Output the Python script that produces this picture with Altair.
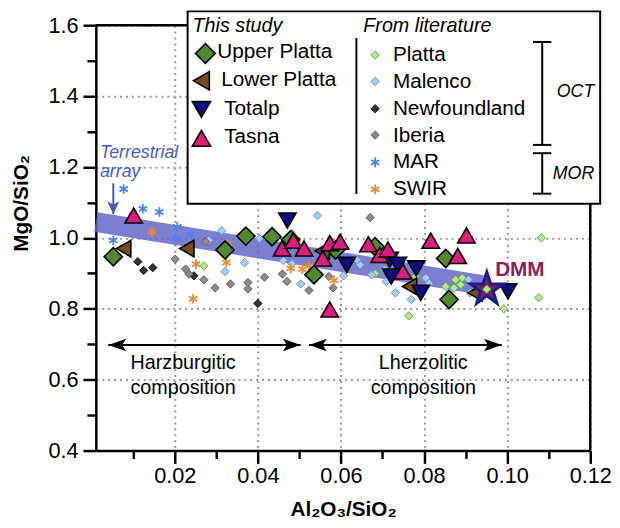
import altair as alt
import pandas as pd

FONT = "Liberation Sans"

# ---------------- data ----------------
upper_platta_x = [0.0052, 0.0321, 0.0371, 0.0434, 0.0479, 0.0535, 0.0587, 0.0682, 0.0852, 0.0860]
upper_platta_y = [0.947, 0.966, 1.005, 1.003, 0.995, 0.896, 0.966, 0.975, 0.942, 0.826]

lower_platta_x = [0.0077, 0.0229, 0.0555, 0.0765, 0.0923]
lower_platta_y = [0.970, 0.970, 0.963, 0.863, 0.845]

totalp_x = [0.0471, 0.0614, 0.0717, 0.0737, 0.0721, 0.0781, 0.0792, 0.1002]
totalp_y = [1.049, 0.924, 0.938, 0.924, 0.891, 0.914, 0.845, 0.849]

tasna_x = [0.0101, 0.0458, 0.0485, 0.0511, 0.0556, 0.0573, 0.0598, 0.0666, 0.0693,
           0.0713, 0.0749, 0.0816, 0.0573, 0.0881, 0.0902]
tasna_y = [1.063, 0.970, 0.992, 0.970, 0.942, 0.985, 0.989, 0.982, 0.952,
           0.967, 0.905, 0.992, 0.798, 0.949, 1.007]

platta_x = [0.0270, 0.0482, 0.0531, 0.0682, 0.0763, 0.0780, 0.0852, 0.0872, 0.0876,
            0.0888, 0.0892, 0.0992, 0.1076, 0.1082]
platta_y = [0.921, 1.012, 0.916, 0.899, 0.780, 0.891, 0.863, 0.859, 0.882,
            0.868, 0.887, 0.800, 0.831, 1.000]

malenco_x = [0.0282, 0.0313, 0.0321, 0.0368, 0.0404, 0.0461, 0.0482, 0.0503, 0.0543,
             0.0606, 0.0638, 0.0646, 0.0674, 0.0705, 0.0709, 0.0731, 0.0769, 0.0804,
             0.0812, 0.0862, 0.0907, 0.0911]
malenco_y = [0.993, 1.020, 0.905, 0.930, 0.998, 0.936, 0.927, 0.870, 1.063,
             0.893, 0.938, 0.924, 0.896, 0.910, 0.877, 0.845, 0.826, 0.887,
             0.872, 0.847, 0.882, 0.845]

newfoundland_x = [0.0111, 0.0125, 0.0147, 0.0246, 0.0400]
newfoundland_y = [0.933, 0.908, 0.916, 0.893, 0.815]

iberia_x = [0.0201, 0.0226, 0.0234, 0.0270, 0.0274, 0.0297, 0.0334, 0.0376, 0.0376,
            0.0416, 0.0459, 0.0470, 0.0523, 0.0567, 0.0571, 0.0581, 0.0670]
iberia_y = [0.940, 0.912, 0.898, 0.882, 0.989, 0.859, 0.870, 0.874, 0.856,
            0.889, 0.898, 0.877, 0.852, 0.973, 0.891, 0.859, 1.057]

mar_x = [0.0052, 0.0077, 0.0123, 0.0163, 0.0202, 0.0206, 0.0238]
mar_y = [0.993, 1.138, 1.082, 1.073, 0.998, 1.031, 1.010]

swir_x = [0.0145, 0.0244, 0.0251, 0.0324, 0.0326, 0.0479, 0.0493, 0.0507, 0.0523, 0.0583]
swir_y = [1.017, 0.828, 0.926, 0.930, 0.984, 0.914, 0.995, 0.912, 0.921, 0.880]

dmm_x = [0.0951]
dmm_y = [0.855]

band_x = [0.0010, 0.0940]
band_y = [1.045, 0.867]

arrow_x_start = [0.0040, 0.0523]
arrow_x_end = [0.0503, 0.0987]
arrow_y = [0.698, 0.698]

comp_label_x = [0.0220, 0.0220, 0.0798, 0.0798]
comp_label_y = [0.647, 0.575, 0.647, 0.575]
comp_label_text = ["Harzburgitic", "composition", "Lherzolitic", "composition"]

terr_arrow_x = [0.0052]
terr_arrow_top = [1.154]
terr_arrow_tip = [1.067]

x_ticks = [round(0.01 * i, 2) for i in range(1, 13)]
y_ticks = [round(0.4 + 0.1 * i, 1) for i in range(13)]

# ---------------- styling ----------------
ASTER = "M0,-1L0,1M-0.866,-0.5L0.866,0.5M-0.866,0.5L0.866,-0.5"
STAR = ("M0,-1L0.2245,-0.309L0.951,-0.309L0.363,0.118L0.588,0.809L0,0.382"
        "L-0.588,0.809L-0.363,0.118L-0.951,-0.309L-0.2245,-0.309Z")
HEAD_R = "M0,0L-2,-0.7L-1.55,0L-2,0.7Z"
HEAD_L = "M0,0L2,-0.7L1.55,0L2,0.7Z"
HEAD_D = "M0,0L-0.95,-2L0,-1.5L0.95,-2Z"

group_order = ["Platta", "Malenco", "Newfoundland", "Iberia", "MAR", "SWIR",
               "Upper Platta", "Lower Platta", "Totalp", "Tasna"]
group_data = [platta_x, malenco_x, newfoundland_x, iberia_x, mar_x, swir_x,
              upper_platta_x, lower_platta_x, totalp_x, tasna_x]
group_data_y = [platta_y, malenco_y, newfoundland_y, iberia_y, mar_y, swir_y,
                upper_platta_y, lower_platta_y, totalp_y, tasna_y]
shapes = ["diamond"] * 4 + [ASTER, ASTER] + ["diamond", "triangle-left", "triangle-down", "triangle-up"]
fills = ["#b4ea8c", "#a8caf4", "#333333", "#8c8c8c", "transparent", "transparent",
         "#4f8a2c", "#7a4a1d", "#0d0d80", "#e2197f"]
strokes = ["#5ea23a", "#5b8fd8", "#111111", "#5c5c5c", "#4a80f2", "#f08a2c",
           "#000000", "#000000", "#000000", "#000000"]
sizes = [72, 72, 72, 72, 95, 95, 340, 280, 310, 310]
sws = [0.9, 0.9, 0.9, 0.9, 1.8, 1.8, 1.6, 1.6, 1.6, 1.6]

rows = []
for gi, (name, xs, ys) in enumerate(zip(group_order, group_data, group_data_y)):
    for a, b in zip(xs, ys):
        rows.append({"group": name, "x": a, "y": b, "sz": sizes[gi], "sw": sws[gi]})
df = pd.DataFrame(rows)

W, H = 501, 431
MAJX = "round(datum.value*100) % 2 == 0"
MAJY = "round(datum.value*10) % 2 == 0"

xscale = alt.Scale(domain=[0.001, 0.12], nice=False, zero=False)
yscale = alt.Scale(domain=[0.4, 1.6], nice=False, zero=False)

xaxis = alt.Axis(
    values=x_ticks, orient="bottom",
    labelExpr=f"{MAJX} ? format(datum.value, '.2f') : ''",
    tickSize={"condition": {"test": MAJX, "value": 13}, "value": 8},
    gridOpacity={"condition": {"test": MAJX, "value": 1}, "value": 0},
    grid=True, gridColor="#9a9a9a", gridDash=[2, 4], gridWidth=2,
    tickColor="black", tickWidth=2.5, domainColor="black", domainWidth=2.5,
    labelFont=FONT, labelFontSize=22, labelColor="black", labelPadding=2,
    labelFlush=False, labelOverlap=False,
    title="Al₂O₃/SiO₂", titleFont=FONT, titleFontSize=21, titleFontWeight="bold",
    titleColor="black", titleX=250.5, titleY=66, titleAlign="center",
    titleBaseline="alphabetic",
)
yaxis = alt.Axis(
    values=y_ticks, orient="left",
    labelExpr=f"{MAJY} ? format(datum.value, '.1f') : ''",
    tickSize={"condition": {"test": MAJY, "value": 13}, "value": 9},
    gridOpacity={"condition": {"test": MAJY, "value": 1}, "value": 0},
    grid=True, gridColor="#9a9a9a", gridDash=[2, 4], gridWidth=2,
    tickColor="black", tickWidth=2.5, domainColor="black", domainWidth=2.5,
    labelFont=FONT, labelFontSize=22, labelColor="black", labelPadding=5,
    labelOverlap=False,
    title="MgO/SiO₂", titleFont=FONT, titleFontSize=21, titleFontWeight="bold",
    titleColor="black", titleAngle=270, titleX=-69.5, titleY=180, titleAlign="center",
    titleBaseline="alphabetic",
)


def X(f):
    return alt.X(f, type="quantitative", scale=xscale, axis=xaxis)


def Y(f):
    return alt.Y(f, type="quantitative", scale=yscale, axis=yaxis)


layers = []

# terrestrial array band
band = pd.DataFrame({"x": band_x, "y": band_y})
layers.append(alt.Chart(band).mark_line(strokeWidth=20, color="#5f62c4", opacity=0.82,
                                        strokeCap="butt").encode(x=X("x"), y=Y("y")))

# composition arrows
arr = pd.DataFrame({"x": arrow_x_start, "x2": arrow_x_end, "y": arrow_y})
layers.append(alt.Chart(arr).mark_rule(color="black", strokeWidth=2).encode(
    x=X("x"), x2="x2", y=Y("y")))
layers.append(alt.Chart(arr).mark_point(shape=HEAD_L, size=324, filled=True, color="black",
                                        opacity=1, strokeWidth=0).encode(x=X("x"), y=Y("y")))
arr_r = pd.DataFrame({"x": arrow_x_end, "y": arrow_y})
layers.append(alt.Chart(arr_r).mark_point(shape=HEAD_R, size=324, filled=True, color="black",
                                          opacity=1, strokeWidth=0).encode(x=X("x"), y=Y("y")))
comp = pd.DataFrame({"x": comp_label_x, "y": comp_label_y, "t": comp_label_text})
layers.append(alt.Chart(comp).mark_text(font=FONT, fontSize=20, color="black", align="center",
                                        baseline="middle").encode(x=X("x"), y=Y("y"), text="t:N"))

# terrestrial array arrow + label
ta = pd.DataFrame({"x": terr_arrow_x, "y": terr_arrow_top, "y2": terr_arrow_tip})
layers.append(alt.Chart(ta).mark_rule(color="#4b56c8", strokeWidth=2).encode(
    x=X("x"), y=Y("y"), y2="y2"))
tah = pd.DataFrame({"x": terr_arrow_x, "y": terr_arrow_tip})
layers.append(alt.Chart(tah).mark_point(shape=HEAD_D, size=169, filled=True, color="#4b56c8",
                                        opacity=1, strokeWidth=0).encode(x=X("x"), y=Y("y")))
tt = pd.DataFrame({"x": [0.0020, 0.0020], "y": [1.224, 1.172], "t": ["Terrestrial", "array"]})
layers.append(alt.Chart(tt).mark_text(font=FONT, fontSize=18, fontStyle="italic", color="#4c5bd4",
                                      align="left", baseline="alphabetic").encode(
    x=X("x"), y=Y("y"), text="t:N"))

# data points
layers.append(alt.Chart(df).mark_point(filled=True, opacity=1).encode(
    x=X("x"), y=Y("y"),
    shape=alt.Shape("group:N", scale=alt.Scale(domain=group_order, range=shapes), legend=None),
    fill=alt.Fill("group:N", scale=alt.Scale(domain=group_order, range=fills), legend=None),
    stroke=alt.Stroke("group:N", scale=alt.Scale(domain=group_order, range=strokes), legend=None),
    size=alt.Size("sz:Q", scale=None),
    strokeWidth=alt.StrokeWidth("sw:Q", scale=None),
))

# DMM
dmm = pd.DataFrame({"x": dmm_x, "y": dmm_y})
layers.append(alt.Chart(dmm).mark_point(shape=STAR, size=1225, filled=True, fill="#7a2159",
                                        stroke="#1c1c8e", strokeWidth=3, opacity=1).encode(
    x=X("x"), y=Y("y")))
layers.append(alt.Chart(dmm).mark_point(shape="diamond", size=72, filled=True, fill="#b4ea8c",
                                        stroke="#5ea23a", strokeWidth=0.9, opacity=1).encode(
    x=X("x"), y=Y("y")))
dmm_lab = pd.DataFrame({"x": [0.0971], "y": [0.910], "t": ["DMM"]})
layers.append(alt.Chart(dmm_lab).mark_text(font=FONT, fontSize=21, fontWeight="bold",
                                           color="#8e1f5b", align="left", baseline="middle").encode(
    x=X("x"), y=Y("y"), text="t:N"))

# frame (top and right)
one = alt.Data(values=[{"a": 1}])
layers.append(alt.Chart(one).mark_rule(color="black", strokeWidth=2.5).encode(
    x=alt.value(0), x2=alt.value(W), y=alt.value(0)))
layers.append(alt.Chart(one).mark_rule(color="black", strokeWidth=2.5).encode(
    x=alt.value(W), y=alt.value(0), y2=alt.value(H)))

# ---------------- legend ----------------
layers.append(alt.Chart(one).mark_rect(fill="white", stroke="black", strokeWidth=2).encode(
    x=alt.value(93), x2=alt.value(511), y=alt.value(-14), y2=alt.value(181)))


def txt(s, x, y, size=21, style="normal", align="left"):
    return alt.Chart(one).mark_text(text=s, font=FONT, fontSize=size, fontStyle=style,
                                    color="black", align=align, baseline="alphabetic").encode(
        x=alt.value(x), y=alt.value(y))


def sym(shape, x, y, size, fill, stroke, sw):
    return alt.Chart(one).mark_point(shape=shape, size=size, filled=True, fill=fill,
                                     stroke=stroke, strokeWidth=sw, opacity=1).encode(
        x=alt.value(x), y=alt.value(y))


def line(x1, y1, x2, y2, w=2):
    return alt.Chart(one).mark_rule(color="black", strokeWidth=w).encode(
        x=alt.value(x1), x2=alt.value(x2), y=alt.value(y1), y2=alt.value(y2))


layers.append(txt("This study", 98, 6.5, size=20, style="italic"))
left_items = [("Upper Platta", 111, 28.7, 123, 33.0, 400),
              ("Lower Platta", 107, 56.3, 127, 61.3, 340),
              ("Totalp", 107, 85.3, 130, 91.3, 340),
              ("Tasna", 107, 114.7, 130, 119.7, 340)]
for name, sx, sy, tx, ty, ss in left_items:
    i = group_order.index(name)
    layers.append(sym(shapes[i], sx, sy, ss, fills[i], strokes[i], sws[i]))
    layers.append(txt(name, tx, ty))

layers.append(txt("From literature", 271, 6.5, size=20, style="italic"))
layers.append(line(264, 13, 264, 171))
right_items = [("Platta", 30.3, 36.3), ("Malenco", 57.0, 63.7), ("Newfoundland", 84.7, 91.3),
               ("Iberia", 111.3, 118.0), ("MAR", 139.0, 144.7), ("SWIR", 166.3, 172.3)]
for name, sy, ty in right_items:
    i = group_order.index(name)
    layers.append(sym(shapes[i], 283, sy, sizes[i], fills[i], strokes[i], sws[i]))
    layers.append(txt(name, 301, ty))

# OCT / MOR brackets
for y1, y2 in [(17, 121.3), (129.7, 170.7)]:
    layers.append(line(452.3, y1, 452.3, y2))
    layers.append(line(443, y1, 461.5, y1))
    layers.append(line(443, y2, 461.5, y2))
layers.append(txt("OCT", 505, 72.5, size=18, style="italic", align="right"))
layers.append(txt("MOR", 505, 156, size=18, style="italic", align="right"))

chart = alt.layer(*layers).properties(
    width=W, height=H,
    padding={"left": 89, "top": 14, "right": 22, "bottom": 72},
    autosize=alt.AutoSizeParams(type="none"),
).configure(font=FONT).configure_view(strokeWidth=0)

chart.save("out.html", embed_options={"renderer": "svg", "actions": False})
